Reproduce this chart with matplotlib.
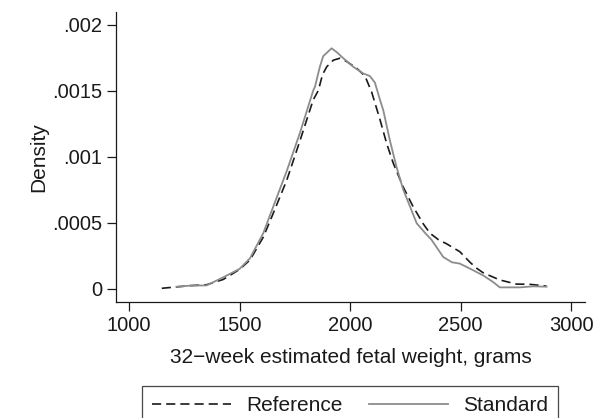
import matplotlib
matplotlib.use("Agg")
import matplotlib.pyplot as plt
from matplotlib.ticker import FixedLocator

plt.rcParams['font.family'] = ['Liberation Sans', 'DejaVu Sans']

# Reference curve (dashed)
ref_x = [1148, 1276, 1351, 1426, 1500, 1547, 1607, 1652, 1713, 1773, 1833, 1856,
         1875, 1894, 1924, 1954, 1984, 2029, 2067, 2097, 2135, 2165, 2195, 2240,
         2285, 2331, 2361, 2400, 2436, 2496, 2542, 2572, 2602, 2677, 2752, 2813, 2888]
ref_y = [0.000003, 0.000023, 0.00003, 0.00007, 0.000146, 0.000217, 0.00039, 0.00057,
         0.00082, 0.00112, 0.00143, 0.0015, 0.00162, 0.00168, 0.00173, 0.001745,
         0.00172, 0.00167, 0.00161, 0.00149, 0.00128, 0.0011, 0.00095, 0.00077,
         0.00062, 0.00049, 0.00042, 0.00037, 0.00034, 0.00028, 0.0002, 0.000155,
         0.00012, 0.000066, 0.000035, 0.000033, 0.00002]

# Standard curve (solid grey)
std_x = [1215, 1276, 1351, 1426, 1500, 1547, 1607, 1652, 1713, 1773, 1833, 1841,
         1863, 1878, 1916, 1940, 1969, 2014, 2059, 2089, 2112, 2135, 2150, 2180,
         2210, 2240, 2301, 2340, 2368, 2421, 2460, 2496, 2556, 2602, 2647, 2677,
         2768, 2828, 2888]
std_y = [0.000015, 0.000023, 0.000025, 0.000086, 0.00015, 0.00023, 0.00042, 0.00062,
         0.00089, 0.00118, 0.0015, 0.00153, 0.00168, 0.00176, 0.00182, 0.00179,
         0.001745, 0.00168, 0.00163, 0.00161, 0.00156, 0.00143, 0.00135, 0.00112,
         0.00092, 0.00075, 0.000495, 0.00042, 0.00037, 0.00024, 0.0002, 0.00019,
         0.00014, 0.0001, 0.00005, 0.00001, 0.00001, 0.000018, 0.000015]

x_ticks = [1000, 1500, 2000, 2500, 3000]
y_ticks = [0, 0.0005, 0.001, 0.0015, 0.002]
y_ticklabels = ['0', '.0005', '.001', '.0015', '.002']

txt = '#1a1a1a'
fs = 15

fig = plt.figure(figsize=(6.06, 4.18), dpi=100)
ax = fig.add_axes([0.1914, 0.2768, 0.7739, 0.6952])

ax.plot(ref_x, ref_y, color='#1a1a1a', lw=1.2, linestyle=(0, (5.5, 3.0)),
        label='Reference')
ax.plot(std_x, std_y, color='#8c8c8c', lw=1.3, label='Standard')

ax.set_xlim(941, 3062)
ax.set_ylim(-0.000103, 0.002097)

ax.xaxis.set_major_locator(FixedLocator(x_ticks))
ax.yaxis.set_major_locator(FixedLocator(y_ticks))
ax.set_xticklabels([str(t) for t in x_ticks])
ax.set_yticklabels(y_ticklabels)

for s in ['top', 'right']:
    ax.spines[s].set_visible(False)
for s in ['left', 'bottom']:
    ax.spines[s].set_linewidth(0.9)
    ax.spines[s].set_color(txt)

ax.tick_params(axis='both', direction='out', length=6.5, width=0.9, colors=txt,
               labelsize=fs - 0.5, pad=3.5)

ax.set_ylabel('Density', fontsize=fs, color=txt, labelpad=3)
ax.set_xlabel('32\u2212week estimated fetal weight, grams', fontsize=fs,
              color=txt, labelpad=9)

leg = fig.legend(loc='upper center', bbox_to_anchor=(0.5776, 0.0766), ncols=2,
                 fontsize=fs, frameon=True, fancybox=False, handlelength=3.8,
                 handletextpad=0.7, columnspacing=1.3, borderpad=0.5,
                 borderaxespad=0)
leg.get_frame().set_edgecolor(txt)
leg.get_frame().set_linewidth(0.9)
for t in leg.get_texts():
    t.set_color(txt)

fig.savefig('out.png', dpi=100)
